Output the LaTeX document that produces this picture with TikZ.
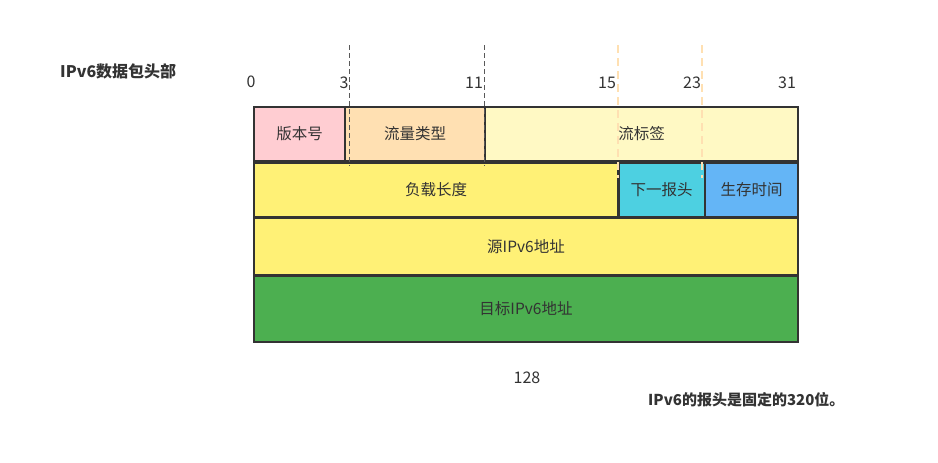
\documentclass[tikz,border=0pt]{standalone}
\usepackage{fontspec}
\setmainfont{Noto Sans CJK SC}
\definecolor{txt}{HTML}{333333}
\definecolor{edge}{HTML}{333333}
\definecolor{cpink}{HTML}{FFCDD2}
\definecolor{cpeach}{HTML}{FFE0B2}
\definecolor{clight}{HTML}{FFF9C4}
\definecolor{cyel}{HTML}{FFF176}
\definecolor{ccyan}{HTML}{4DD0E1}
\definecolor{cblue}{HTML}{64B5F6}
\definecolor{cgreen}{HTML}{4CAF50}
\definecolor{cdash}{HTML}{FFE0B2}
\begin{document}
\begin{tikzpicture}[x=1pt,y=-1pt,
  field/.style={draw=edge, line width=2pt, text=txt, inner sep=0pt, font=\fontsize{15.5}{17}\selectfont},
  num/.style={text=txt, inner sep=0pt, font=\fontsize{16}{18}\selectfont},
  note/.style={text=txt, inner sep=0pt, font=\fontsize{15}{17}\selectfont\bfseries},
  graydash/.style={draw=black!65, line width=0.9pt, dash pattern=on 5pt off 3pt},
  peachdash/.style={draw=cdash, line width=2.6pt, dash pattern=on 8pt off 5pt}]
\useasboundingbox (0,0) rectangle (938,463);
% row 1
\node[field, fill=cpink, minimum width=91pt, minimum height=54pt] (ver) at (299.5,134) {版本号};
\node[field, fill=cpeach, minimum width=140pt, minimum height=54pt] (cls) at (415,134) {流量类型};
\node[field, fill=clight, minimum width=313pt, minimum height=54pt] (flow) at (641.5,134) {流标签};
% row 2
\node[field, fill=cyel, minimum width=364pt, minimum height=54pt] (len) at (436,190) {负载长度};
\node[field, fill=ccyan, minimum width=86pt, minimum height=54pt] (nxt) at (661.5,190) {下一报头};
\node[field, fill=cblue, minimum width=93pt, minimum height=54pt] (ttl) at (751.5,190) {生存时间};
% row 3, 4
\node[field, fill=cyel, minimum width=544pt, minimum height=57pt] (src) at (526,246.5) {源IPv6地址};
\node[field, fill=cgreen, minimum width=544pt, minimum height=66pt] (dst) at (526,309) {目标IPv6地址};
% dashed markers
\coordinate (g1a) at (349,45); \coordinate (g1b) at (349,166);
\coordinate (g2a) at (484,45); \coordinate (g2b) at (484,166);
\coordinate (p1a) at (618,45); \coordinate (p1b) at (618,178);
\coordinate (p2a) at (702,45); \coordinate (p2b) at (702,178);
\draw[graydash] (g1a) -- (g1b);
\draw[graydash] (g2a) -- (g2b);
\draw[peachdash] (p1a) -- (p1b);
\draw[peachdash] (p2a) -- (p2b);
% bit numbers
\node[num] (n0) at (251,82) {0};
\node[num] (n3) at (344,83) {3};
\node[num] (n11) at (474,83) {11};
\node[num] (n15) at (607,83) {15};
\node[num] (n23) at (692,83) {23};
\node[num] (n31) at (787,83) {31};
\node[num] (n128) at (527,378) {128};
% notes
\node[note, anchor=west, font=\fontsize{16}{18}\selectfont\bfseries] (title) at (60,71) {IPv6数据包头部};
\node[note, anchor=west] (foot) at (648,400) {IPv6的报头是固定的320位。};
\end{tikzpicture}
\end{document}
